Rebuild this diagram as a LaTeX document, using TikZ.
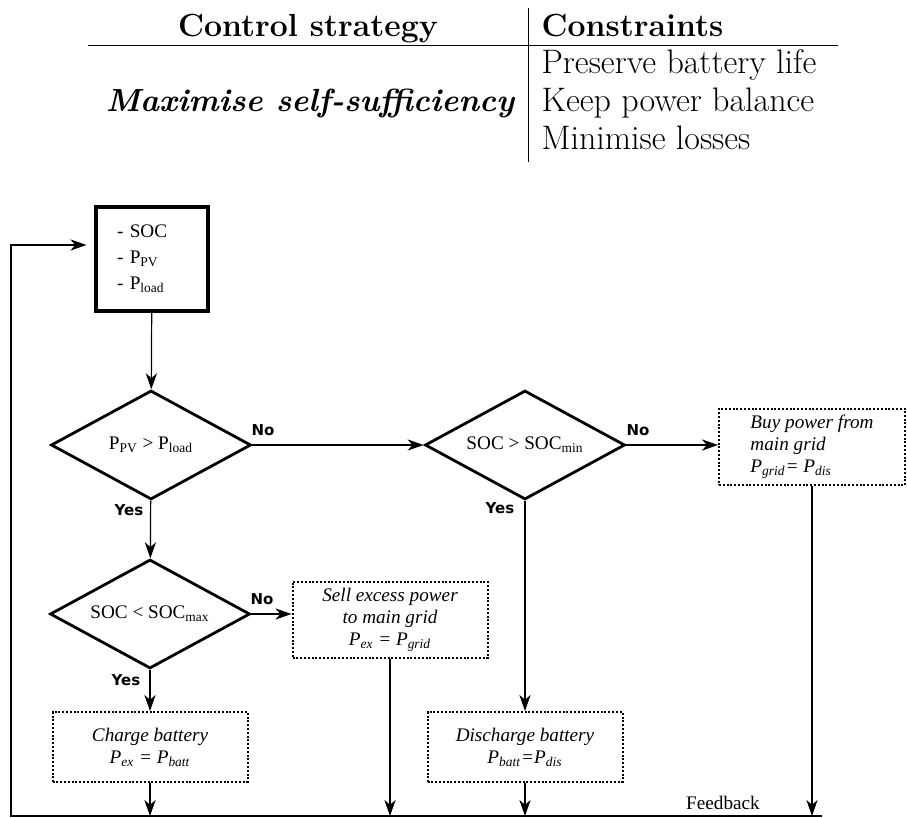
\documentclass[tikz,border=0pt]{standalone}
\usepackage{fontspec}
\newfontfamily\timesfont{Liberation Serif}
\newfontfamily\yesnofont{DejaVu Sans}
\usetikzlibrary{shapes.geometric,arrows.meta}

\tikzset{
  tabtext/.style={inner sep=0pt, font=\fontsize{17}{20}\selectfont},
  tabhead/.style={inner sep=0pt, font=\bfseries\fontsize{16}{19}\selectfont},
  decision/.style={draw, diamond, aspect=2, line width=1.4pt, inner sep=0pt,
    minimum width=100pt, minimum height=54.5pt,
    font=\timesfont\fontsize{9.6}{11}\selectfont},
  inputbox/.style={draw, line width=1.6pt, minimum height=52pt,
    text width=35pt, inner xsep=10.5pt, align=left,
    font=\timesfont\fontsize{9.6}{13}\selectfont},
  action/.style={draw, line width=1pt, dash pattern=on 1pt off 0.9pt,
    minimum width=97.5pt, minimum height=35pt, align=center,
    font=\timesfont\itshape\fontsize{9.6}{11}\selectfont},
  yesno/.style={font=\yesnofont\bfseries\fontsize{7.5}{9}\selectfont, inner sep=0pt},
}

\begin{document}
\begin{tikzpicture}[x=0.5pt, y=-0.5pt, line width=0.6pt,
  >={Stealth[length=8pt,width=5.6pt,inset=2.4pt]}]
\useasboundingbox (0,0) rectangle (907,818);

% strategy table
\node[tabhead, anchor=base] (cs) at (308,37) {Control strategy};
\node[tabhead, anchor=base west] (cons) at (541,37) {Constraints};
\node[tabtext, anchor=base west] (c1) at (541,74) {Preserve battery life};
\node[tabtext, anchor=base west] (c2) at (541,112) {Keep power balance};
\node[tabtext, anchor=base west] (c3) at (541,150) {Minimise losses};
\node[tabhead, anchor=base] (ms) at (310,112) {\itshape Maximise self-sufficiency};
\draw[line width=0.5pt] (88,46) -- (838,46);
\draw[line width=0.5pt] (528,8) -- (528,162);

% flowchart
\node[inputbox] (input) at (152,259) {- SOC\\- P\textsubscript{PV}\\- P\textsubscript{load}};
\node[decision] (d1) at (151,445) {P\textsubscript{PV} > P\textsubscript{load}};
\node[decision] (d2) at (525,445) {SOC > SOC\textsubscript{min}};
\node[decision] (d3) at (150,614) {SOC < SOC\textsubscript{max}};
\node[action] (sell) at (390,620) {Sell excess power\\to main grid\\P\textsubscript{ex} = P\textsubscript{grid}};
\node[action, minimum width=93pt, minimum height=36pt, align=left] (buy) at (812,447)
  {Buy power from\\main grid\\P\textsubscript{grid}= P\textsubscript{dis}};
\node[action] (charge) at (150,747) {Charge battery\\P\textsubscript{ex} = P\textsubscript{batt}};
\node[action] (discharge) at (525,747) {Discharge battery\\P\textsubscript{batt}=P\textsubscript{dis}};

\node[yesno] (no1) at (263,430) {No};
\node[yesno] (no2) at (638,430) {No};
\node[yesno] (no3) at (262,599) {No};
\node[yesno] (yes1) at (129,510) {Yes};
\node[yesno] (yes2) at (500,508) {Yes};
\node[yesno] (yes3) at (126,680) {Yes};

\draw[->] (input) -- (d1);
\draw[->] (d1) -- (d2);
\draw[->] (d2.east) -- (d2.east -| buy.west);
\draw[->] (d1) -- (d3);
\draw[->] (d3.east) -- (d3.east -| sell.west);
\draw[->] (d3) -- (charge);
\draw[->] (d2) -- (discharge);

% feedback loop
\coordinate (fbR) at (822,816);
\coordinate (fbL) at (11,816);
\coordinate (fbT) at (11,245);
\node[font=\timesfont\fontsize{9.6}{11}\selectfont] (fbtext) at (723,803) {Feedback};
\draw[->] (charge) -- (charge |- fbL);
\draw[->] (sell) -- (sell |- fbL);
\draw[->] (discharge) -- (discharge |- fbL);
\draw[->] (buy) -- (buy |- fbL);
\draw[->, shorten >=4pt] (fbR) -- (fbL) -- (fbT) -- (fbT -| input.west);
\end{tikzpicture}
\end{document}
